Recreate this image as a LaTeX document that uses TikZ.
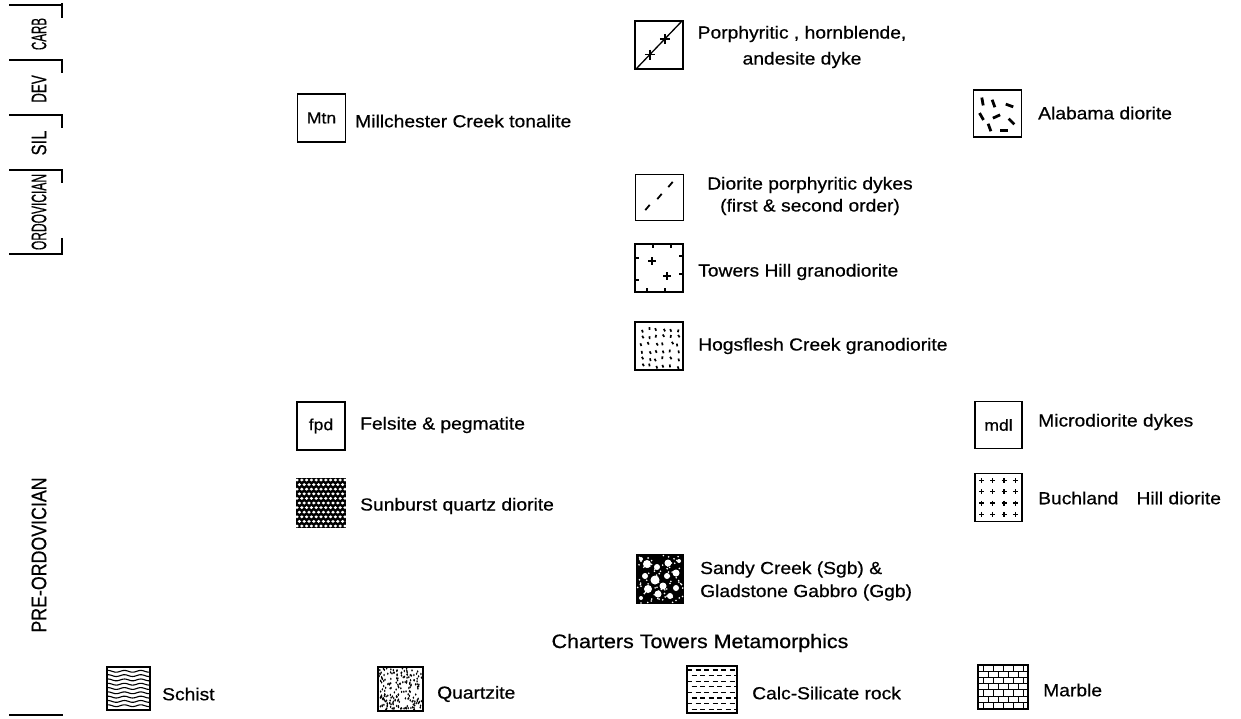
\documentclass[tikz,border=0pt]{standalone}
\usepackage{fontspec}
\setmainfont{Liberation Sans}[FakeStretch=1.1,FakeBold=0.6]
\begin{document}
\begin{tikzpicture}[x=1pt,y=-1pt,
  every node/.style={font=\fontsize{17.5}{21}\selectfont, inner sep=0pt},
  lbox/.style={draw, line width=1.6pt, minimum width=#1, minimum height=48pt, font=\fontsize{16}{18}\selectfont},
  lbox/.default=48pt,
  lbl/.style={anchor=west},
  era/.style={rotate=90, font=\fontsize{21}{22}\selectfont},
  rule/.style={line width=1.4pt},
  pat/.style={line width=0.9pt}]
\useasboundingbox (0,0) rectangle (1241,719);

% ---------- time axis ----------
\foreach \yy in {5,60,115,170,254,715} \draw[rule] (9,\yy) -- (63,\yy);
\foreach \ya/\yb in {3/18,60/73,115/128,170/183,238/254} \draw[line width=1.1pt] (62,\ya) -- (62,\yb);
\node[era] (carb) at (39,34) {\scalebox{0.5}[1]{CARB}};
\node[era] (dev) at (39,89) {\scalebox{0.58}[1]{DEV}};
\node[era] (sil) at (39,143) {\scalebox{0.72}[1]{SIL}};
\node[era] (ord) at (39,212) {\scalebox{0.52}[1]{ORDOVICIAN}};
\node[era] (preord) at (39,555) {\scalebox{0.77}[1]{PRE-ORDOVICIAN}};

% ---------- legend boxes ----------
\node[lbox] (porph) at (659,45) {};
\node[lbox] (mtn) at (321.5,118) {Mtn};
\node[lbox, minimum height=47pt] (alab) at (997.5,113.5) {};
\node[lbox, minimum height=46pt] (dior) at (659.5,197.5) {};
\node[lbox] (tow) at (659,268) {};
\node[lbox] (hog) at (659,346) {};
\node[lbox] (fpd) at (321,426) {fpd};
\node[lbox] (sun) at (321,503) {};
\node[lbox=46pt] (sandy) at (660,579) {};
\node[lbox=47pt, minimum height=47pt] (mdl) at (998.5,425) {mdl};
\node[lbox=47pt] (buch) at (998.5,497.5) {};
\node[lbox=43pt, minimum height=43pt] (schist) at (128.5,688.5) {};
\node[lbox=45pt, minimum height=44pt] (quartz) at (400.5,689) {};
\node[lbox=50pt, minimum height=47pt] (calc) at (712,689.5) {};
\node[lbox=50pt, minimum height=44pt] (marble) at (1003,687) {};

% ---------- labels ----------
\node[align=center, font=\fontsize{17.5}{26}\selectfont] (t-porph) at (802,47) {Porphyritic , hornblende,\\andesite dyke};
\node[lbl] (t-mtn) at (355,121) {Millchester Creek tonalite};
\node[lbl] (t-alab) at (1038,113) {Alabama diorite};
\node[align=center, font=\fontsize{17.5}{22}\selectfont] (t-dior) at (810,196) {Diorite porphyritic dykes\\(first \& second order)};
\node[lbl] (t-tow) at (698,272) {Towers Hill granodiorite};
\node[lbl] (t-hog) at (698,346) {Hogsflesh Creek granodiorite};
\node[lbl] (t-fpd) at (360,425) {Felsite \& pegmatite};
\node[lbl] (t-sun) at (360,506) {Sunburst quartz diorite};
\node[lbl] (t-mdl) at (1038,422) {Microdiorite dykes};
\node[lbl] (t-buch) at (1038,498) {Buchland\hspace{18pt}Hill diorite};
\node[lbl, align=left, font=\fontsize{17.5}{23}\selectfont] (t-sandy) at (700,581) {Sandy Creek (Sgb) \&\\Gladstone Gabbro (Ggb)};
\node[font=\fontsize{19.5}{22}\selectfont] (ctm) at (700,643) {Charters Towers Metamorphics};
\node[lbl] (t-schist) at (162,694) {Schist};
\node[lbl] (t-quartz) at (437,694) {Quartzite};
\node[lbl] (t-calc) at (752,693) {Calc-Silicate rock};
\node[lbl] (t-marble) at (1043,690) {Marble};

% ---------- patterns ----------
% porphyritic hornblende andesite dyke
\begin{scope}[shift={(porph.center)}]
  \draw[line width=1.3pt] (-23,24) -- (23,-24);
  \foreach \t in {-0.4,0.25} \draw[line width=1.6pt] ({\t*23},{-\t*24-5}) -- ++(0,10) ({\t*23-5},{-\t*24}) -- ++(10,0);
\end{scope}
% diorite porphyritic dykes
\begin{scope}[shift={(dior.center)}]
  \foreach \px/\py in {-12/10,0/-1,11/-13}
    \draw[line width=1.8pt] (\px-2.2,\py+2.6) -- (\px+2.2,\py-2.6);
\end{scope}
% Towers Hill
\begin{scope}[shift={(tow.center)}]
  \foreach \px/\py in {-7/-7,8/8} \draw[line width=1.5pt] (\px-4,\py) -- (\px+4,\py) (\px,\py-4) -- (\px,\py+4);
  \foreach \px in {-6,12} \draw[line width=1.4pt] (\px,-24) -- (\px,-20);
  \foreach \px in {-12,6} \draw[line width=1.4pt] (\px,24) -- (\px,20);
  \foreach \py in {-10,12} \draw[line width=1.4pt] (-24,\py) -- (-20,\py);
  \foreach \py in {-12,6} \draw[line width=1.4pt] (24,\py) -- (20,\py);
\end{scope}
% Hogsflesh
\begin{scope}[shift={(hog.center)}]
  \pgfmathsetseed{11}
  \foreach \r in {0,...,5} \foreach \c in {0,...,5} {
    \pgfmathsetmacro\px{-19+\c*7.3+rnd*3}
    \pgfmathsetmacro\py{-19+\r*7.3+rnd*3}
    \pgfmathsetmacro\pa{50+rnd*60}
    \draw[line width=1.7pt] (\px,\py) -- ++(\pa:2.8);
  }
\end{scope}
% Alabama diorite
\begin{scope}[shift={(alab.center)}]
  \foreach \px/\py/\pa in {-4/-10/70,12/-8/20,-16/3/60,-1/3/-25,14/8/45,-8/14/70,-15/-12/80,6/17/0}
    \draw[line width=2.8pt] (\px,\py) -- ++(\pa:4) (\px,\py) -- ++(\pa+180:4);
\end{scope}
% Sunburst
\begin{scope}
  \clip (sun.south west) rectangle (sun.north east);
  \fill (sun.south west) rectangle (sun.north east);
  \begin{scope}[shift={(sun.center)}]
  \foreach \r in {0,...,10} \foreach \c in {0,...,10}
    \fill[white] ({-24+\c*4.8+mod(\r,2)*2.4},{-23+\r*4.6}) ellipse (1.8 and 1.5);
  \end{scope}
\end{scope}
% Sandy Creek / Gladstone gabbro
\begin{scope}
  \clip (sandy.south west) rectangle (sandy.north east);
  \fill (sandy.south west) rectangle (sandy.north east);
  \begin{scope}[shift={(sandy.center)}]
  \foreach \px/\py/\pr in {-13/-15/4,-3/-12/3,8/-16/3.5,16/-6/3.5,-15/-3/3,-5/1/4.5,7/-3/3,3/7/3.5,16/9/3,-12/10/4,-2/15/3.5,10/17/3,-19/19/2,19/-18/2,-19/-20/2}
    \fill[white] (\px,\py) circle (\pr);
  \pgfmathsetseed{5}
  \foreach \i in {1,...,80} {
    \pgfmathsetmacro\px{rnd*46-23}
    \pgfmathsetmacro\py{rnd*48-24}
    \fill[white] (\px,\py) circle (0.9);
  }
  \end{scope}
\end{scope}
% Buchland Hill diorite
\begin{scope}[shift={(buch.center)}]
  \foreach \c in {0,...,3} \foreach \r in {0,...,3}
    \draw[line width=1.3pt] ({-17+\c*11.3-2.5},{-17+\r*11.3}) -- ++(5,0) ({-17+\c*11.3},{-17+\r*11.3-2.5}) -- ++(0,5);
\end{scope}
% Schist
\begin{scope}[shift={(schist.center)}]
  \foreach \k in {1,...,9}
    \draw[pat, line width=1.1pt] plot[domain=-21.5:21.5, samples=30, smooth] (\x,{-21.5+\k*4.3+0.9*sin(\x*22)});
\end{scope}
% Quartzite
\begin{scope}[shift={(quartz.center)}]
  \pgfmathsetseed{7}
  \foreach \i in {1,...,190} {
    \pgfmathsetmacro\px{rnd*43-21.5}
    \pgfmathsetmacro\py{rnd*42-21}
    \fill (\px,\py) ellipse (0.8 and 1.3);
  }
\end{scope}
% Calc-silicate
\begin{scope}[shift={(calc.center)}]
  \clip (-24,-23) rectangle (24,23);
  \foreach \r [evaluate=\r as \ph using {mod(\r,2)*4}] in {0,...,7}
    \draw[line width=1.2pt, dash pattern=on 5pt off 3.5pt, dash phase=\ph pt] (-25,{-19.5+\r*5.6}) -- (25,{-19.5+\r*5.6});
\end{scope}
% Marble
\begin{scope}[shift={(marble.center)}]
  \foreach \k in {1,...,6} \draw[line width=1pt] (-25,{-22+\k*6.2}) -- (25,{-22+\k*6.2});
  \foreach \k in {0,...,6} \foreach \j in {0,...,4}
    \draw[line width=1pt] ({-20+\j*10+mod(\k,2)*5},{-22+\k*6.2}) -- ++(0,6.2);
\end{scope}
\end{tikzpicture}
\end{document}
